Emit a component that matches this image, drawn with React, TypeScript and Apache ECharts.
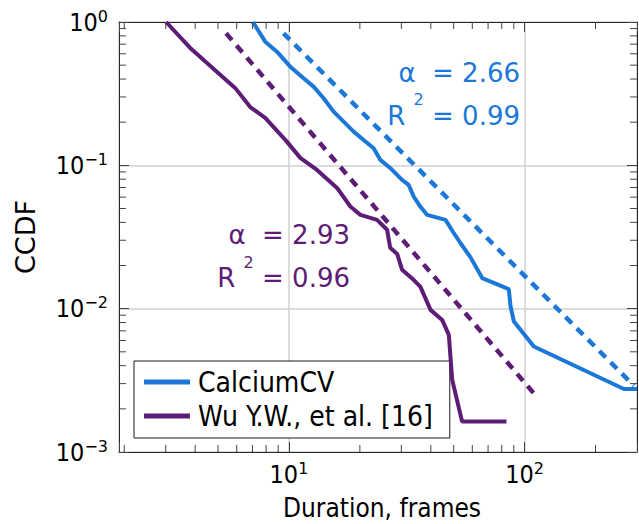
import React, { useEffect, useRef } from 'react';
import * as echarts from 'echarts';

// CalciumCV empirical CCDF
const calciumX = [7.03, 7.93, 8.89, 10.13, 11.54, 12.72, 14.03, 15.47, 17.06, 18.82, 20.75, 22.88, 24.43, 26.95, 30.2, 32.2, 33.85, 36.1, 38.6, 46.2, 50.1, 53.5, 58.96, 66.1, 85.7, 87.2, 90.1, 109.5, 264, 300];
const calciumY = [1, 0.729, 0.621, 0.488, 0.4055, 0.354, 0.294, 0.237, 0.2018, 0.1718, 0.1504, 0.1316, 0.1091, 0.0955, 0.0791, 0.073, 0.0605, 0.0516, 0.0451, 0.0416, 0.0336, 0.0286, 0.0228, 0.01634, 0.01369, 0.01035, 0.00814, 0.00545, 0.00275, 0.00275];

// Wu Y.W., et al. empirical CCDF
const wuX = [3.01, 3.81, 4.94, 5.91, 6.85, 7.93, 9.8, 11.17, 13.15, 16.0, 18.22, 20.1, 23.66, 26.1, 26.9, 28.8, 30.2, 33.8, 36.1, 39.9, 44.7, 47.7, 49.3, 54.3, 83.8];
const wuY = [1, 0.659, 0.45, 0.347, 0.255, 0.214, 0.1464, 0.1127, 0.0929, 0.0696, 0.0516, 0.0451, 0.0416, 0.0355, 0.0266, 0.0241, 0.0187, 0.0159, 0.01426, 0.00981, 0.00835, 0.00656, 0.00319, 0.001634, 0.001634];

// Power-law fits (endpoints)
const calciumFitX = [9.48, 291];
const calciumFitY = [0.834, 0.0029];
const wuFitX = [5.41, 113.6];
const wuFitY = [0.834, 0.00239];

// Fit annotations
const seriesNames = ['CalciumCV', 'Wu Y.W., et al. [16]'];
const alphaValues = ['2.66', '2.93'];
const r2Values = ['0.99', '0.96'];

// Axes
const xMin = 1.9;
const xMax = 300;
const yMin = 0.001;
const yMax = 1;
const xMinorTicks = [2, 3, 4, 5, 6, 7, 8, 9, 20, 30, 40, 50, 60, 70, 80, 90, 200];
const yMinorTicks = [0.002, 0.003, 0.004, 0.005, 0.006, 0.007, 0.008, 0.009, 0.02, 0.03, 0.04, 0.05, 0.06, 0.07, 0.08, 0.09, 0.2, 0.3, 0.4, 0.5, 0.6, 0.7, 0.8, 0.9];

const BLUE = '#1b78d8';
const PURPLE = '#5d1c76';
const FONT = '"DejaVu Sans", sans-serif';
const FONT_C = '"DejaVu Sans Condensed", "DejaVu Sans", sans-serif';
const FRAME = '#262626';
const TICK = '#444444';

const zip = (xs: number[], ys: number[]) => xs.map((x, i) => [x, ys[i]]);

const powLabel = (v: number) => {
  const l = Math.log10(v);
  const e = Math.round(l);
  if (Math.abs(l - e) > 1e-6) return '';
  return `{b|10}{s|${e < 0 ? '\u2212' + -e : e}}`;
};

const tickRich = {
  b: { fontFamily: FONT_C, fontSize: 25, color: '#000' },
  s: { fontFamily: FONT, fontSize: 16, color: '#000', padding: [0, 0, 12, 0] },
};

export default function App() {
  const ref = useRef<HTMLDivElement>(null);

  useEffect(() => {
    if (!ref.current) return;
    const chart = echarts.init(ref.current, undefined, { renderer: 'svg' });

    const minorTickLen = 7;

    const annot = (right: number, cy: number, text: string, color: string) => ({
      type: 'text',
      x: right,
      y: cy,
      z: 100,
      style: {
        text,
        fill: color,
        fontFamily: FONT,
        fontSize: 26,
        align: 'right',
        verticalAlign: 'middle',
        rich: {
          n: { fill: color, fontFamily: FONT, fontSize: 26 },
          s: { fill: color, fontFamily: FONT, fontSize: 16, padding: [0, 0, 32, 0] },
        },
      },
    });

    const option: any = {
      animation: false,
      backgroundColor: '#fff',
      grid: { left: 119, top: 22, width: 518, height: 430, containLabel: false, outerBoundsMode: 'none' },
      xAxis: [
        {
          type: 'log',
          logBase: 10,
          min: xMin,
          max: xMax,
          position: 'bottom',
          axisLine: { show: true, lineStyle: { color: FRAME, width: 1 } },
          axisTick: { show: true, inside: true, length: 10, lineStyle: { color: TICK, width: 1 } },
          axisLabel: { formatter: powLabel, rich: tickRich, margin: 8, hideOverlap: false },
          splitLine: { show: true, lineStyle: { color: '#d0d0d0', width: 1.5 } },
          name: 'Duration, frames',
          nameLocation: 'middle',
          nameGap: 43,
          nameTextStyle: { fontFamily: FONT_C, fontSize: 26, color: '#000', padding: [0, 0, 0, 8] },
        },
        {
          type: 'log',
          logBase: 10,
          min: xMin,
          max: xMax,
          position: 'top',
          axisLine: { show: true, lineStyle: { color: FRAME, width: 1 } },
          axisTick: { show: true, inside: true, length: 10, lineStyle: { color: TICK, width: 1 } },
          axisLabel: { show: false },
          splitLine: { show: false },
        },
      ],
      yAxis: [
        {
          type: 'log',
          logBase: 10,
          min: yMin,
          max: yMax,
          position: 'left',
          axisLine: { show: true, lineStyle: { color: FRAME, width: 1 } },
          axisTick: { show: true, inside: true, length: 10, lineStyle: { color: TICK, width: 1 } },
          axisLabel: { formatter: powLabel, rich: tickRich, margin: 11, hideOverlap: false },
          splitLine: { show: true, lineStyle: { color: '#d0d0d0', width: 1.5 } },
          name: 'CCDF',
          nameLocation: 'middle',
          nameGap: 80,
          nameTextStyle: { fontFamily: FONT, fontSize: 27, color: '#000' },
        },
        {
          type: 'log',
          logBase: 10,
          min: yMin,
          max: yMax,
          position: 'right',
          axisLine: { show: true, lineStyle: { color: FRAME, width: 1 } },
          axisTick: { show: true, inside: true, length: 10, lineStyle: { color: TICK, width: 1 } },
          axisLabel: { show: false },
          splitLine: { show: false },
        },
      ],
      legend: {
        data: seriesNames.map((name) => ({ name, icon: 'rect' })),
        orient: 'vertical',
        left: 134,
        top: 361,
        padding: [7, 17, 8, 10],
        itemWidth: 46,
        itemHeight: 5,
        itemGap: 6,
        backgroundColor: '#fff',
        borderColor: '#1a1a1a',
        borderWidth: 1,
        borderRadius: 0,
        textStyle: { fontFamily: FONT_C, fontSize: 28, color: '#000', padding: [0, 0, 0, 3] },
      },
      series: [
        {
          type: 'custom',
          name: 'xMinor',
          silent: true,
          xAxisIndex: 0,
          yAxisIndex: 0,
          data: xMinorTicks.map((v) => [v, yMax]),
          z: 5,
          renderItem: (params: any, api: any) => {
            const cs = params.coordSys;
            const px = api.coord([api.value(0), yMax])[0];
            const bottom = cs.y + cs.height;
            return {
              type: 'group',
              children: [
                { type: 'line', shape: { x1: px, y1: bottom, x2: px, y2: bottom - minorTickLen }, style: { stroke: TICK, lineWidth: 1 } },
                { type: 'line', shape: { x1: px, y1: cs.y, x2: px, y2: cs.y + minorTickLen }, style: { stroke: TICK, lineWidth: 1 } },
              ],
            };
          },
        },
        {
          type: 'custom',
          name: 'yMinor',
          silent: true,
          xAxisIndex: 0,
          yAxisIndex: 0,
          data: yMinorTicks.map((v) => [xMax, v]),
          z: 5,
          renderItem: (params: any, api: any) => {
            const cs = params.coordSys;
            const py = api.coord([xMax, api.value(1)])[1];
            const right = cs.x + cs.width;
            return {
              type: 'group',
              children: [
                { type: 'line', shape: { x1: cs.x, y1: py, x2: cs.x + minorTickLen, y2: py }, style: { stroke: TICK, lineWidth: 1 } },
                { type: 'line', shape: { x1: right, y1: py, x2: right - minorTickLen, y2: py }, style: { stroke: TICK, lineWidth: 1 } },
              ],
            };
          },
        },
        {
          type: 'line',
          name: 'CalciumCV fit',
          data: zip(calciumFitX, calciumFitY),
          symbol: 'none',
          lineStyle: { color: BLUE, width: 4.5, type: [9, 7] },
          z: 3,
        },
        {
          type: 'line',
          name: 'Wu fit',
          data: zip(wuFitX, wuFitY),
          symbol: 'none',
          lineStyle: { color: PURPLE, width: 4.5, type: [9, 7] },
          z: 3,
        },
        {
          type: 'line',
          name: seriesNames[0],
          data: zip(calciumX, calciumY),
          symbol: 'none',
          color: BLUE,
          itemStyle: { color: BLUE },
          lineStyle: { color: BLUE, width: 4 },
          z: 4,
        },
        {
          type: 'line',
          name: seriesNames[1],
          data: zip(wuX, wuY),
          symbol: 'none',
          color: PURPLE,
          itemStyle: { color: PURPLE },
          lineStyle: { color: PURPLE, width: 4 },
          z: 4,
        },
      ],
      graphic: [
        annot(520, 72.5, `{n|\u03b1  = ${alphaValues[0]}}`, BLUE),
        annot(520, 115.5, `{n|R }{s|2}{n| = ${r2Values[0]}}`, BLUE),
        annot(350, 235, `{n|\u03b1  = ${alphaValues[1]}}`, PURPLE),
        annot(350, 278, `{n|R }{s|2}{n| = ${r2Values[1]}}`, PURPLE),
      ],
    };

    chart.setOption(option);
    return () => chart.dispose();
  }, []);

  return (
    <div
      ref={ref}
      style={{ position: 'absolute', left: 0, top: 0, width: 639, height: 524, background: '#fff' }}
    />
  );
}
